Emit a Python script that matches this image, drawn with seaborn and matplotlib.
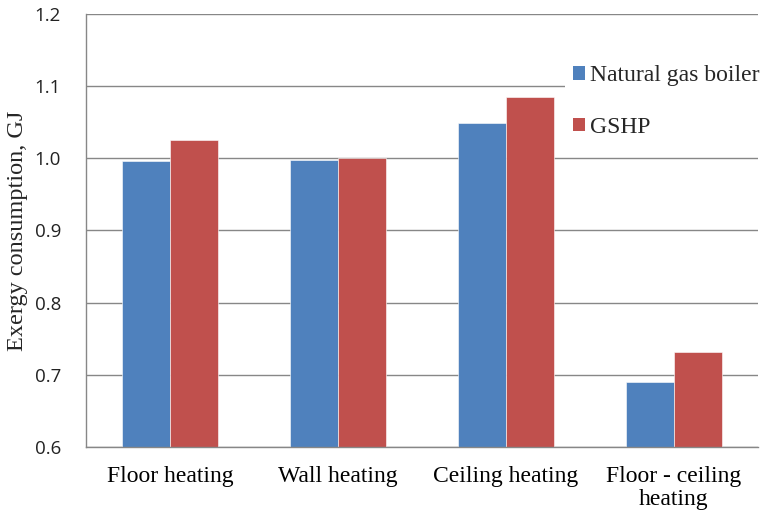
import matplotlib
matplotlib.use("Agg")
import matplotlib.pyplot as plt
import seaborn as sns
import pandas as pd
from matplotlib.patches import Patch

categories = ["Floor heating", "Wall heating", "Ceiling heating", "Floor - ceiling\nheating"]
series_names = ["Natural gas boiler", "GSHP"]
natural_gas = [0.996, 0.997, 1.049, 0.690]
gshp = [1.025, 1.000, 1.085, 0.732]
y_ticks = [0.6, 0.7, 0.8, 0.9, 1.0, 1.1, 1.2]
colors = ["#4F81BD", "#C0504D"]

df = pd.DataFrame({
    "category": categories * 2,
    "system": [series_names[0]] * 4 + [series_names[1]] * 4,
    "value": natural_gas + gshp,
})

sns.set_style("white")
fig = plt.figure(figsize=(7.65, 5.14), dpi=100)
ax = fig.add_axes([86 / 765, 1 - 447 / 514, 672 / 765, 433 / 514])

sns.barplot(data=df, x="category", y="value", hue="system", order=categories,
            hue_order=series_names, palette=colors, width=0.571, gap=0,
            saturation=1, ax=ax, legend=False, edgecolor="white", linewidth=0.4)

ax.set_ylim(0.6, 1.2)
ax.set_xlim(-0.5, 3.5)
ax.set_yticks(y_ticks)
ax.set_yticklabels([f"{t:.1f}" for t in y_ticks], fontfamily="Open Sans", fontsize=13.5, color="#222222")
ax.yaxis.grid(True, color="#878787", linewidth=1.0)
ax.set_axisbelow(True)

for side in ["top", "right"]:
    ax.spines[side].set_visible(False)
for side in ["left", "bottom"]:
    ax.spines[side].set_color("#878787")
    ax.spines[side].set_linewidth(1.0)

ax.tick_params(axis="y", length=6, color="#878787", width=1.0, pad=12)
ax.set_xticks(range(len(categories)))
ax.set_xticklabels(categories, fontfamily="Liberation Serif", fontsize=17, color="black")
ax.tick_params(axis="x", which="major", length=0, pad=14)
ax.set_xticks([-0.5, 0.5, 1.5, 2.5, 3.5], minor=True)
ax.tick_params(axis="x", which="minor", length=6, color="#878787", width=1.0)
for lbl in ax.get_xticklabels():
    lbl.set_linespacing(1.1)

ax.set_xlabel("")
ax.set_ylabel("Exergy consumption, GJ", fontfamily="Liberation Serif", fontsize=17.5, labelpad=5)

handles = [Patch(facecolor=c, edgecolor="none") for c in colors]
leg = fig.legend(handles, series_names, loc="upper left", bbox_to_anchor=(565 / 765, 1 - 57 / 514),
                 prop={"family": "Liberation Serif", "size": 17}, frameon=True,
                 handlelength=0.5, handleheight=0.5, handletextpad=0.2,
                 labelspacing=1.3, borderpad=0.35, borderaxespad=0)
leg.get_frame().set_facecolor("white")
leg.get_frame().set_edgecolor("none")
leg.get_frame().set_alpha(1)

fig.savefig("out.png", dpi=100)
